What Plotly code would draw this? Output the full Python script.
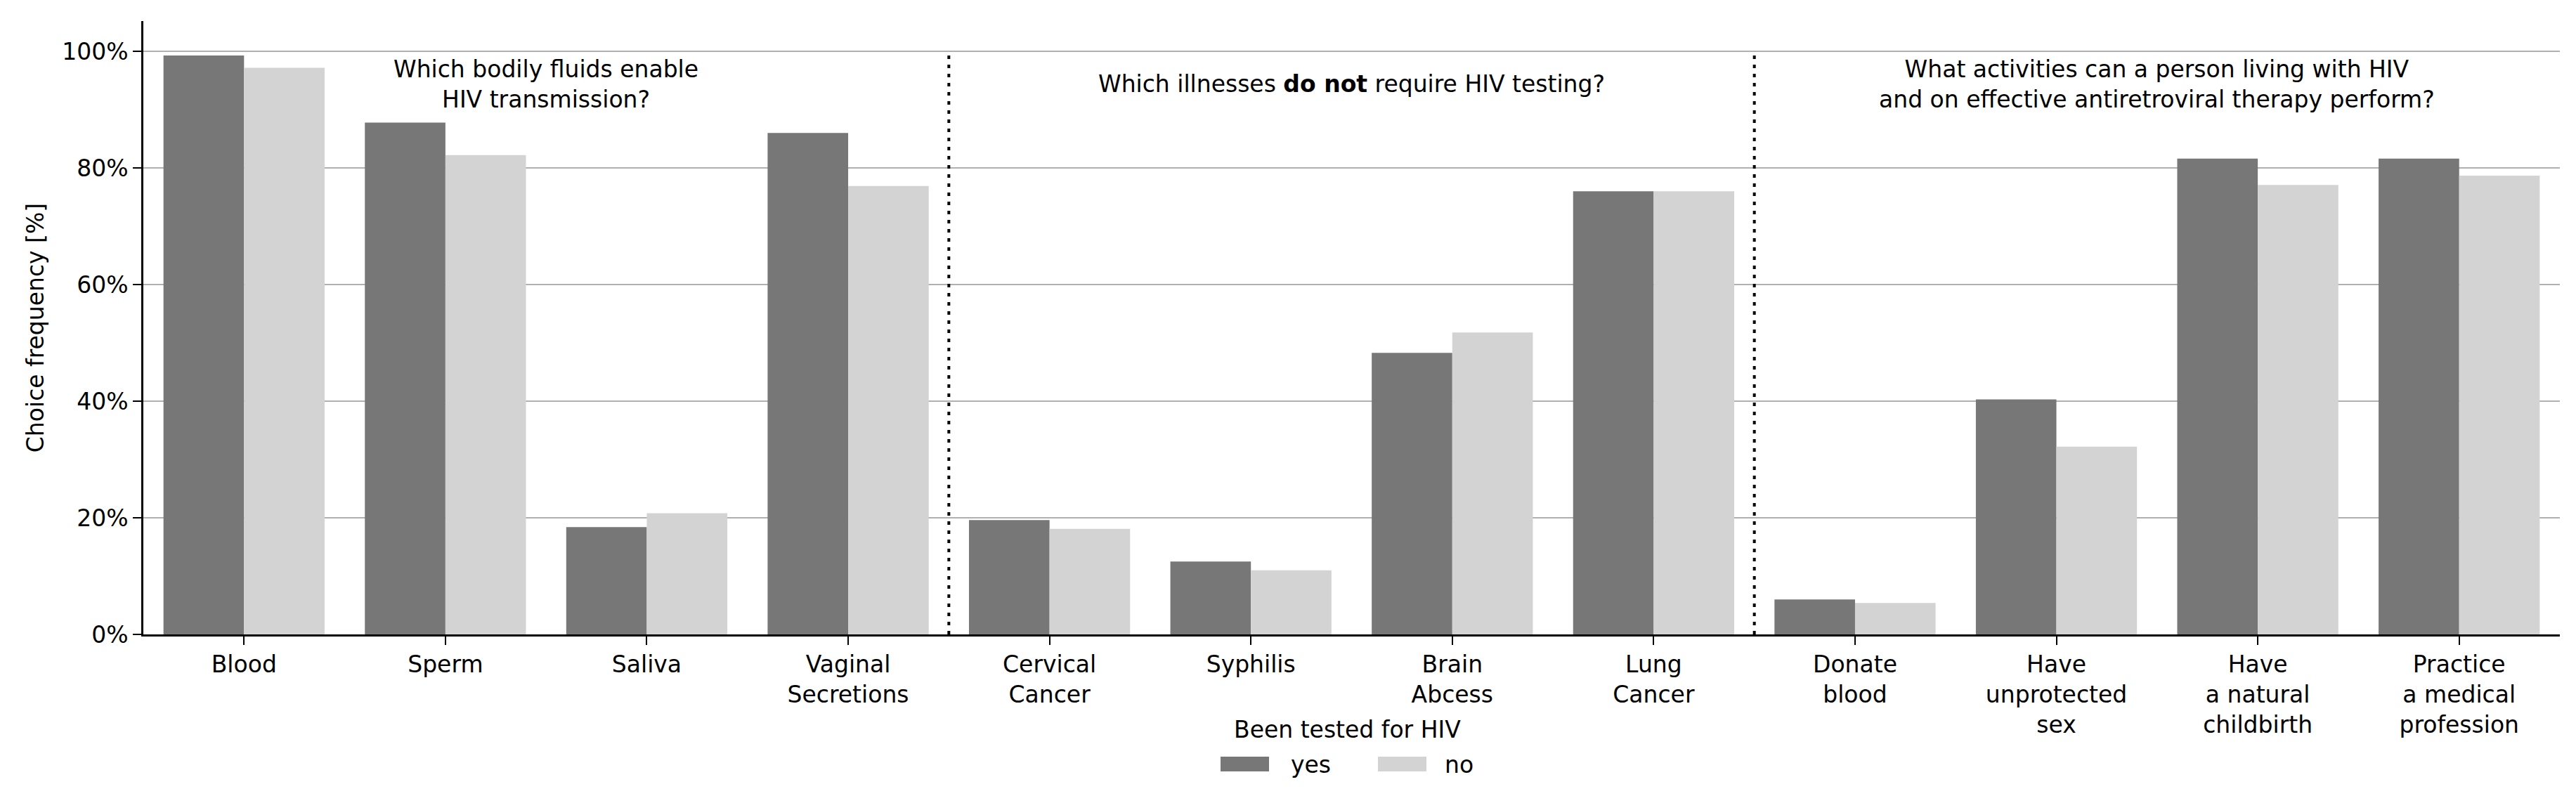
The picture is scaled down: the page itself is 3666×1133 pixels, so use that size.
import plotly.graph_objects as go

# ---- data ----
categories = ["Blood", "Sperm", "Saliva", "Vaginal<br>Secretions",
              "Cervical<br>Cancer", "Syphilis", "Brain<br>Abcess", "Lung<br>Cancer",
              "Donate<br>blood", "Have<br>unprotected<br>sex", "Have<br>a natural<br>childbirth",
              "Practice<br>a medical<br>profession"]
tested_yes = [99.3, 87.8, 18.4, 86.0, 19.6, 12.5, 48.3, 76.0, 6.0, 40.3, 81.6, 81.6]
tested_no = [97.2, 82.2, 20.8, 76.9, 18.1, 11.0, 51.8, 76.0, 5.4, 32.2, 77.1, 78.7]
section_titles = ["Which bodily fluids enable<br>HIV transmission?",
                  "Which illnesses <b>do not</b> require HIV testing?",
                  "What activities can a person living with HIV<br>and on effective antiretroviral therapy perform?"]
section_sizes = [4, 4, 4]
series_names = ["yes", "no"]
legend_title = "Been tested for HIV"
y_ticks = [0, 20, 40, 60, 80, 100]

# ---- style ----
FONT = "DejaVu Sans"
FS = 33
C_YES = "#777777"
C_NO = "#d3d3d3"

OFF = 8  # default page body margin
W, H = 3666 - OFF, 1133 - OFF
# plot area in screen pixels
SX0, SX1, SY0, SY1 = 204, 3643, 30, 903
L, R, T, B = SX0 - OFF, W - (SX1 - OFF), SY0 - OFF, H - (SY1 - OFF)
pw, ph = SX1 - SX0, SY1 - SY0

fig = go.Figure()
fig.add_trace(go.Bar(x=categories, y=tested_yes, name=series_names[0],
                     marker=dict(color=C_YES, line=dict(width=0)), showlegend=False))
fig.add_trace(go.Bar(x=categories, y=tested_no, name=series_names[1],
                     marker=dict(color=C_NO, line=dict(width=0)), showlegend=False))

shapes = []
annotations = []
start = 0
for i, (title, n) in enumerate(zip(section_titles, section_sizes)):
    center = start + (n - 1) / 2
    annotations.append(dict(x=center, y=94.4, xref="x", yref="y", text=title,
                            showarrow=False, xanchor="center", yanchor="middle",
                            font=dict(family=FONT, size=FS, color="black")))
    end = start + n
    if i < len(section_sizes) - 1:
        shapes.append(dict(type="line", xref="x", yref="y", x0=end - 0.5, x1=end - 0.5,
                           y0=0, y1=100, line=dict(color="black", width=4, dash="5px,8px"),
                           layer="above"))
    start = end

# manual legend (screen pixel -> paper)
def px_x(p):
    return (p - SX0) / pw

def px_y(p):
    return (SY1 - p) / ph

annotations.append(dict(x=px_x(1917), y=px_y(1038), xref="paper", yref="paper",
                        text=legend_title, showarrow=False, xanchor="center", yanchor="middle",
                        font=dict(family=FONT, size=FS, color="black")))
for (sx0, sx1, tx), name, col in zip([(1737, 1806, 1835), (1961, 2030, 2054)], series_names, [C_YES, C_NO]):
    shapes.append(dict(type="rect", xref="paper", yref="paper",
                       x0=px_x(sx0), x1=px_x(sx1), y0=px_y(1077), y1=px_y(1098),
                       fillcolor=col, line=dict(width=0)))
    annotations.append(dict(x=px_x(tx), y=px_y(1088), xref="paper", yref="paper",
                            text=name, showarrow=False, xanchor="left", yanchor="middle",
                            font=dict(family=FONT, size=FS, color="black")))

fig.update_layout(
    width=W, height=H,
    margin=dict(l=L, r=R, t=T, b=B, autoexpand=False),
    paper_bgcolor="white", plot_bgcolor="white",
    barmode="group", bargap=0.2, bargroupgap=0,
    font=dict(family=FONT, size=FS, color="black"),
    shapes=shapes, annotations=annotations,
    showlegend=False,
)
fig.update_xaxes(range=[-0.5, len(categories) - 0.5], showline=True, linecolor="black",
                 linewidth=2.5, ticks="outside", ticklen=12, tickwidth=2, tickcolor="black",
                 showgrid=False, zeroline=False, tickfont=dict(family=FONT, size=FS, color="black"),
                 automargin=False)
fig.update_yaxes(range=[0, 105.2], tickvals=y_ticks, ticktext=[f"{v}%" for v in y_ticks],
                 showline=True, linecolor="black", linewidth=2.5, ticks="outside", ticklen=12,
                 tickwidth=2, tickcolor="black", showgrid=True, gridcolor="#b0b0b0", gridwidth=2,
                 zeroline=False, tickfont=dict(family=FONT, size=FS, color="black"),
                 title=dict(text="Choice frequency [%]", font=dict(family=FONT, size=FS, color="black"),
                            standoff=16),
                 automargin=False)

fig.write_html("out.html")
